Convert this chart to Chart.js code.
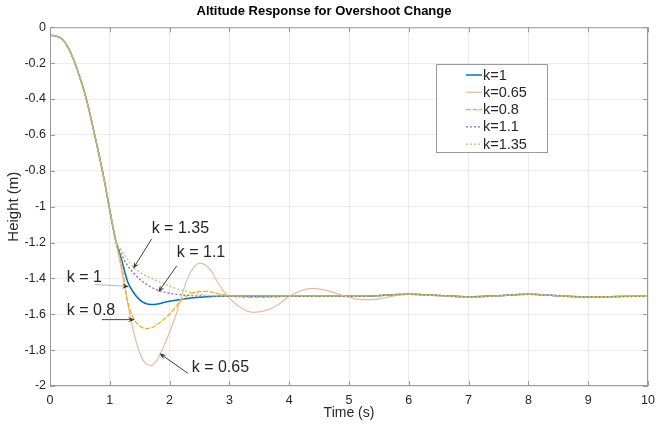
<!DOCTYPE html>
<html>
<head>
<meta charset="utf-8">
<title>Altitude Response for Overshoot Change</title>
<script src="https://cdn.jsdelivr.net/npm/chart.js@4.4.1/dist/chart.umd.min.js"></script>
<style>
  html, body { margin: 0; padding: 0; background: #fff; }
  #wrap { width: 657px; height: 426px; }
</style>
</head>
<body>
<div id="wrap"><canvas id="altChart"></canvas></div>
<script>
/* ==========================================================================
   DATA
   ========================================================================== */
// common part of every response, t = 0 .. 1.1 s
const descentTime = [0, 0.1, 0.2, 0.3, 0.4, 0.5, 0.6, 0.7, 0.8, 0.9, 1.0, 1.1];
const descent = [-0.045, -0.048, -0.065, -0.11, -0.185, -0.28, -0.39, -0.53, -0.68, -0.84, -1.02, -1.19];

// after the split, t = 1.2 .. 10 s
const tailTime = [
    1.2, 1.3, 1.4, 1.5, 1.6, 1.7, 1.8, 1.9, 2.0, 2.1, 2.2, 2.3, 2.4, 2.5, 2.6, 2.7, 2.8, 2.9, 3.0,
    3.2, 3.4, 3.6, 3.8, 4.0, 4.2, 4.4, 4.6, 4.8, 5.0, 5.2, 5.4, 5.6, 5.8, 6.0,
    6.5, 7.0, 7.5, 8.0, 8.5, 9.0, 9.5, 10.0
];

const k100 = [
    -1.30, -1.42, -1.48, -1.52, -1.54, -1.546, -1.543, -1.535, -1.528, -1.522, -1.517, -1.512, -1.508, -1.505, -1.503, -1.501, -1.50, -1.50, -1.50,
    -1.50, -1.50, -1.50, -1.50, -1.50, -1.50, -1.50, -1.50, -1.50, -1.50, -1.50, -1.498, -1.494, -1.49, -1.488,
    -1.495, -1.503, -1.497, -1.488, -1.497, -1.504, -1.501, -1.50
];
const k065 = [
    -1.36, -1.54, -1.70, -1.815, -1.875, -1.885, -1.85, -1.78, -1.70, -1.61, -1.50, -1.40, -1.34, -1.315, -1.325, -1.36, -1.42, -1.47, -1.51,
    -1.565, -1.59, -1.58, -1.55, -1.50, -1.468, -1.456, -1.465, -1.485, -1.505, -1.518, -1.518, -1.508, -1.495, -1.488,
    -1.497, -1.506, -1.498, -1.488, -1.498, -1.505, -1.501, -1.50
];
const k080 = [
    -1.33, -1.53, -1.625, -1.665, -1.68, -1.675, -1.655, -1.63, -1.60, -1.56, -1.52, -1.495, -1.48, -1.473, -1.472, -1.477, -1.485, -1.492, -1.498,
    -1.503, -1.506, -1.505, -1.503, -1.50, -1.499, -1.50, -1.50, -1.50, -1.50, -1.50, -1.498, -1.494, -1.49, -1.488,
    -1.495, -1.503, -1.497, -1.488, -1.497, -1.504, -1.501, -1.50
];
const k110 = [
    -1.27, -1.33, -1.37, -1.405, -1.43, -1.45, -1.465, -1.475, -1.483, -1.488, -1.492, -1.495, -1.497, -1.498, -1.499, -1.50, -1.50, -1.50, -1.50,
    -1.50, -1.50, -1.50, -1.50, -1.50, -1.50, -1.50, -1.50, -1.50, -1.50, -1.50, -1.498, -1.494, -1.49, -1.488,
    -1.495, -1.503, -1.497, -1.488, -1.497, -1.504, -1.501, -1.50
];
const k135 = [
    -1.245, -1.295, -1.34, -1.365, -1.385, -1.40, -1.415, -1.43, -1.443, -1.455, -1.465, -1.474, -1.482, -1.488, -1.493, -1.496, -1.498, -1.499, -1.50,
    -1.50, -1.50, -1.50, -1.50, -1.50, -1.50, -1.50, -1.50, -1.50, -1.50, -1.50, -1.498, -1.494, -1.49, -1.488,
    -1.495, -1.503, -1.497, -1.488, -1.497, -1.504, -1.501, -1.50
];

const seriesLabels = ['k=1', 'k=0.65', 'k=0.8', 'k=1.1', 'k=1.35'];
const seriesValues = [k100, k065, k080, k110, k135];

const xTicks = [0, 1, 2, 3, 4, 5, 6, 7, 8, 9, 10];
const yTicks = [0, -0.2, -0.4, -0.6, -0.8, -1, -1.2, -1.4, -1.6, -1.8, -2];

// text callouts with arrows, in data units (t, height)
const callouts = [
    { text: 'k = 1.35', at: [1.70, -1.12], from: [1.70, -1.18], to: [1.39, -1.346] },
    { text: 'k = 1.1',  at: [2.12, -1.255], from: [2.12, -1.33], to: [1.81, -1.477] },
    { text: 'k = 1',    at: [0.28, -1.395], from: [0.75, -1.434], to: [1.32, -1.445], light: true },
    { text: 'k = 0.8',  at: [0.28, -1.58], from: [0.865, -1.63], to: [1.42, -1.63] },
    { text: 'k = 0.65', at: [2.37, -1.90], from: [2.31, -1.93], to: [1.83, -1.818] }
];

/* ==========================================================================
   STYLE
   ========================================================================== */
const lineColors = ['#0072BD', '#e6bba5', '#EDB120', '#9b62ad', '#a9cf78'];
const lineWidths = [1.5, 1.2, 1.3, 1.3, 1.3];
const lineDashes = [[], [], [5, 1.5], [2, 2], [2, 2]];
const textColor = '#262626';
const FONT = 'Arial, "Liberation Sans", Helvetica, sans-serif';

const times = descentTime.concat(tailTime);
const datasets = seriesValues.map((vals, i) => {
    const ys = descent.concat(vals);
    return {
        label: seriesLabels[i],
        data: times.map((t, j) => ({ x: t, y: ys[j] })),
        borderColor: lineColors[i],
        borderWidth: lineWidths[i],
        borderDash: lineDashes[i],
        pointRadius: 0,
        fill: false,
        // plotted like MATLAB: later series sit on top
        order: seriesValues.length - i,
        cubicInterpolationMode: 'monotone'
    };
});

/* ==========================================================================
   PLUGINS: box with inward ticks, callouts, inset legend
   ========================================================================== */
const boxPlugin = {
    id: 'boxPlugin',
    afterDatasetsDraw(chart) {
        const { ctx, chartArea: a, scales } = chart;
        ctx.save();
        ctx.strokeStyle = '#9a9a9a';
        ctx.lineWidth = 1;
        ctx.strokeRect(a.left + 0.5, a.top + 0.5, a.right - a.left - 1, a.bottom - a.top - 1);
        ctx.beginPath();
        xTicks.forEach(t => {
            const px = Math.round(scales.x.getPixelForValue(t)) + 0.5;
            ctx.moveTo(px, a.bottom); ctx.lineTo(px, a.bottom - 5);
            ctx.moveTo(px, a.top); ctx.lineTo(px, a.top + 5);
        });
        yTicks.forEach(v => {
            const py = Math.round(scales.y.getPixelForValue(v)) + 0.5;
            ctx.moveTo(a.left, py); ctx.lineTo(a.left + 5, py);
            ctx.moveTo(a.right, py); ctx.lineTo(a.right - 5, py);
        });
        ctx.stroke();
        ctx.restore();
    }
};

function drawArrow(ctx, x1, y1, x2, y2, lineColor) {
    const ang = Math.atan2(y2 - y1, x2 - x1);
    const len = 7, wid = 2.6;
    ctx.strokeStyle = lineColor;
    ctx.lineWidth = 1;
    ctx.beginPath();
    ctx.moveTo(x1, y1);
    ctx.lineTo(x2 - Math.cos(ang) * len * 0.6, y2 - Math.sin(ang) * len * 0.6);
    ctx.stroke();
    ctx.fillStyle = '#333';
    ctx.beginPath();
    ctx.moveTo(x2, y2);
    ctx.lineTo(x2 - Math.cos(ang) * len - Math.sin(ang) * wid, y2 - Math.sin(ang) * len + Math.cos(ang) * wid);
    ctx.lineTo(x2 - Math.cos(ang) * len * 0.6, y2 - Math.sin(ang) * len * 0.6);
    ctx.lineTo(x2 - Math.cos(ang) * len + Math.sin(ang) * wid, y2 - Math.sin(ang) * len - Math.cos(ang) * wid);
    ctx.closePath();
    ctx.fill();
}

const calloutPlugin = {
    id: 'calloutPlugin',
    afterDatasetsDraw(chart) {
        const { ctx, scales } = chart;
        const px = t => scales.x.getPixelForValue(t);
        const py = v => scales.y.getPixelForValue(v);
        ctx.save();
        ctx.font = '16px ' + FONT;
        ctx.textBaseline = 'middle';
        ctx.textAlign = 'left';
        callouts.forEach(c => {
            ctx.fillStyle = textColor;
            ctx.fillText(c.text, px(c.at[0]), py(c.at[1]));
            drawArrow(ctx, px(c.from[0]), py(c.from[1]), px(c.to[0]), py(c.to[1]), c.light ? '#b5b5b5' : '#404040');
        });
        ctx.restore();
    }
};

const insetLegend = {
    id: 'insetLegend',
    afterDraw(chart) {
        const { ctx } = chart;
        const left = 436, top = 64, w = 111, h = 88;
        ctx.save();
        ctx.fillStyle = '#fff';
        ctx.fillRect(left, top, w, h);
        ctx.strokeStyle = '#9a9a9a';
        ctx.lineWidth = 1;
        ctx.strokeRect(left + 0.5, top + 0.5, w, h);
        ctx.font = '14.5px ' + FONT;
        ctx.textBaseline = 'middle';
        ctx.textAlign = 'left';
        chart.data.datasets.forEach((ds, i) => {
            const y = top + 11 + i * 17.3;
            ctx.strokeStyle = ds.borderColor;
            ctx.lineWidth = ds.borderWidth;
            ctx.setLineDash(ds.borderDash);
            ctx.beginPath();
            ctx.moveTo(left + 30, y);
            ctx.lineTo(left + 46, y);
            ctx.stroke();
            ctx.setLineDash([]);
            ctx.fillStyle = textColor;
            ctx.fillText(ds.label, left + 47, y + 0.5);
        });
        ctx.restore();
    }
};

/* ==========================================================================
   CHART
   ========================================================================== */
new Chart(document.getElementById('altChart'), {
    type: 'line',
    data: { datasets: datasets },
    options: {
        responsive: true,
        maintainAspectRatio: false,
        animation: false,
        layout: { padding: { left: 0, right: 9, top: 0, bottom: 0 } },
        plugins: {
            legend: { display: false },
            tooltip: { enabled: false },
            title: {
                display: true,
                text: 'Altitude Response for Overshoot Change',
                color: '#000',
                font: { family: FONT, size: 13, weight: 'bold' },
                padding: { top: 4, bottom: 7.7 }
            }
        },
        scales: {
            x: {
                type: 'linear',
                min: 0,
                max: 10,
                afterFit: s => { s.height = 40; s.paddingLeft = 0; s.paddingRight = 0; },
                afterBuildTicks: s => { s.ticks = xTicks.map(v => ({ value: v })); },
                ticks: { color: textColor, padding: 7, font: { family: FONT, size: 12.5 }, maxRotation: 0 },
                grid: { color: '#ebebeb', drawTicks: false },
                border: { display: false },
                title: { display: true, text: 'Time (s)', color: textColor, font: { family: FONT, size: 14 }, padding: { top: 0, bottom: 4 } }
            },
            y: {
                type: 'linear',
                min: -2,
                max: 0,
                afterFit: s => { s.width = 50; },
                afterBuildTicks: s => { s.ticks = yTicks.map(v => ({ value: v })); },
                ticks: {
                    color: textColor,
                    padding: 4,
                    font: { family: FONT, size: 12.5 },
                    callback: v => String(Math.round(v * 10) / 10)
                },
                grid: { color: '#ebebeb', drawTicks: false },
                border: { display: false },
                title: { display: true, text: 'Height (m)', color: textColor, font: { family: FONT, size: 15 }, padding: { top: 5, bottom: 0 } }
            }
        }
    },
    plugins: [boxPlugin, calloutPlugin, insetLegend]
});
</script>
</body>
</html>
